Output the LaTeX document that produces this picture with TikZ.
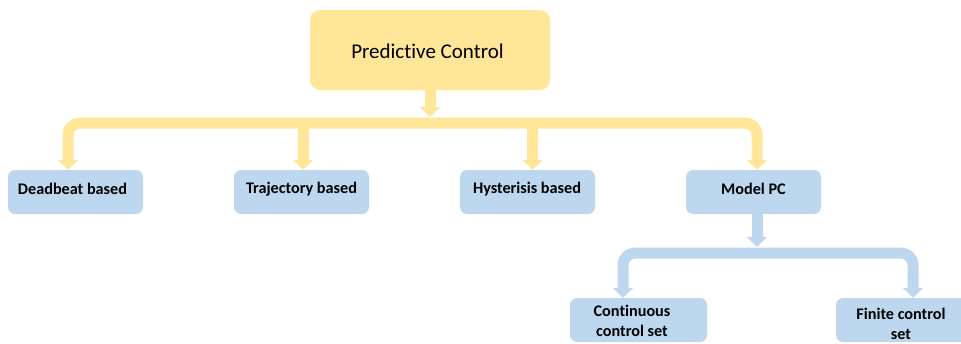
\documentclass[tikz,border=0pt]{standalone}
\usepackage{fontspec}
\setmainfont{Carlito}[Ligatures=NoCommon]
\usetikzlibrary{arrows.meta}
\definecolor{gold}{HTML}{FFE699}
\definecolor{sky}{HTML}{BDD7EE}
\tikzset{
  rootbox/.style={fill=gold, rounded corners=10pt, minimum width=240pt, minimum height=80pt,
    inner sep=0pt, font=\fontsize{21}{24}\selectfont},
  leafbox/.style={fill=sky, rounded corners=7pt, minimum width=135pt, minimum height=44pt,
    inner sep=0pt},
  leaftext/.style={font=\bfseries\fontsize{16.2}{20}\selectfont, align=center, inner sep=0pt},
  goldlink/.style={draw=gold, line width=11pt, rounded corners=12pt,
    -{Triangle[width=20pt,length=10pt]}},
  skylink/.style={draw=sky, line width=11pt, rounded corners=12pt,
    -{Triangle[width=20pt,length=10pt]}},
}
\begin{document}
\begin{tikzpicture}[x=1pt,y=-1pt]
\useasboundingbox (0,0) rectangle (961,343);
% root
\node[rootbox] (root) at (430,50) {};
\node[font=\fontsize{21}{24}\selectfont, inner sep=0pt] (roott) at (427.5,51) {Predictive Control};
% first level
\node[leafbox] (dead) at (75.5,192) {};
\node[leaftext] (deadt) at (72.5,189) {Deadbeat based};
\node[leafbox] (traj) at (301.5,192) {};
\node[leaftext] (trajt) at (301.5,189) {Trajectory based};
\node[leafbox] (hyst) at (527.5,192) {};
\node[leaftext] (hystt) at (527,189) {Hysterisis based};
\node[leafbox] (mpc) at (753.5,192) {};
\node[leaftext] (mpct) at (753.5,189) {Model PC};
% second level (cut off at the page edge)
\node[leafbox, minimum width=137pt] (ccs) at (638.5,320) {};
\node[leaftext] (ccst) at (632,321) {Continuous\\control set};
\node[leafbox] (fcs) at (903.5,320) {};
\node[leaftext] (fcst) at (901,323.5) {Finite control\\set};
% bus coordinates
\coordinate (gbus) at (430,123);
\coordinate (sbus) at (757,253);
% yellow bus
\draw[goldlink] (root.south) -- (root.south |- 0,117);
\draw[goldlink] (gbus) -| ([xshift=-7.5pt]dead.north);
\draw[goldlink] (gbus) -| ([xshift=3.5pt]mpc.north);
\draw[goldlink] ([xshift=1.5pt]traj.north |- gbus) -- ([xshift=1.5pt]traj.north);
\draw[goldlink] ([xshift=5pt]hyst.north |- gbus) -- ([xshift=5pt]hyst.north);
% blue bus
\draw[skylink] ([xshift=3.5pt]mpc.south) -- ([xshift=3.5pt]mpc.south |- 0,247);
\draw[skylink] (sbus) -| ([xshift=-15.5pt]ccs.north);
\draw[skylink] (sbus) -| ([xshift=9.5pt]fcs.north);
\end{tikzpicture}
\end{document}
